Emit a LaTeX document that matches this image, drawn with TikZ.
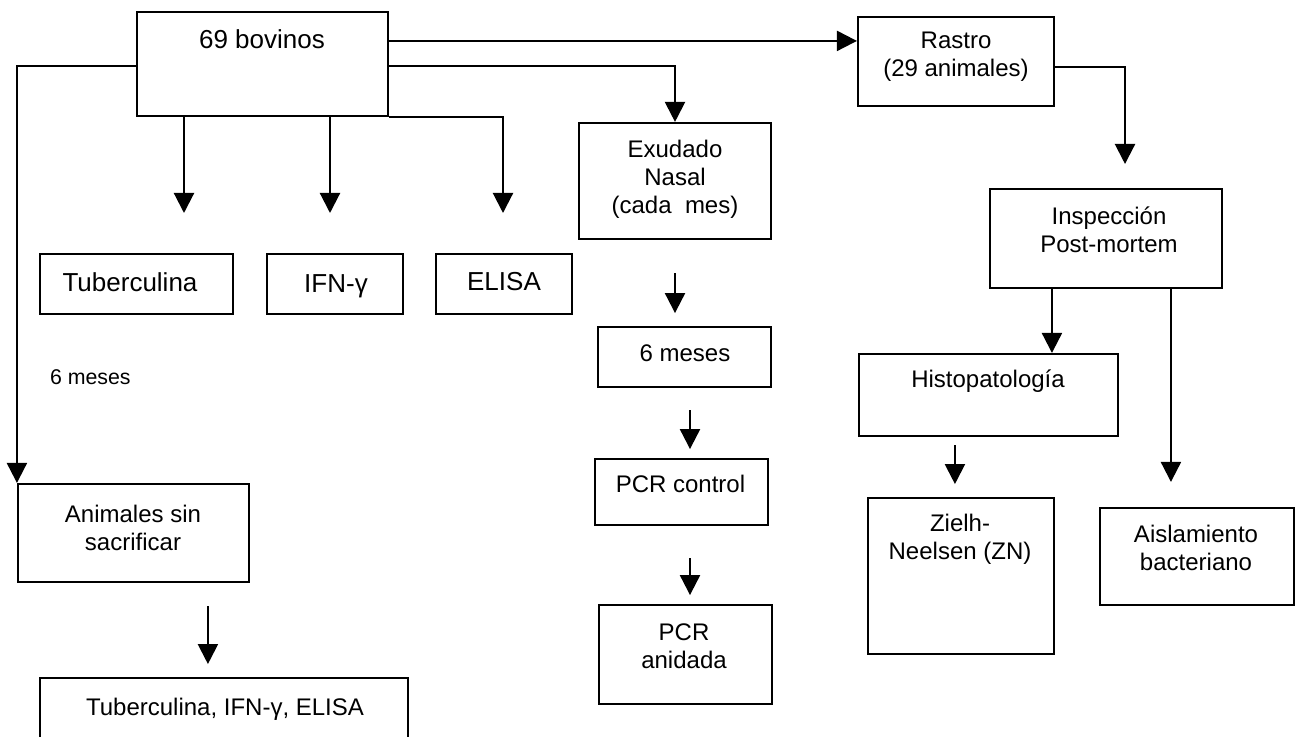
\documentclass[tikz,border=0pt]{standalone}
\usepackage{fontspec}
\setmainfont{Liberation Sans}
\usetikzlibrary{arrows.meta,calc}

\tikzset{every picture/.style={line width=1.6pt}}
\tikzset{
  box/.style={draw, rectangle, inner sep=0pt},
  wh/.style 2 args={minimum width=#1*0.75pt, minimum height=#2*0.75pt},
  arr/.style={-{Triangle[length=15pt,width=15pt]}},
  txt/.style={align=center, inner sep=0.75pt, font=\fontsize{18}{21}\selectfont},
  bigtxt/.style={txt, font=\fontsize{19.5}{22}\selectfont},
  smalltxt/.style={inner sep=0.75pt, font=\fontsize{16}{19}\selectfont},
}

\begin{document}
\begin{tikzpicture}[x=0.75pt,y=0.75pt,yscale=-1,xscale=1]
\useasboundingbox (0,0) rectangle (1301,737);

%Shape: Rectangle [69 bovinos]
\node [box, wh={251}{104}] (bov) at (262.5,64) {};
%Shape: Rectangle [Rastro]
\node [box, wh={196}{89}] (rastro) at (956,61.5) {};
%Shape: Rectangle [Exudado]
\node [box, wh={192}{116}] (exud) at (675,181) {};
%Shape: Rectangle [Tuberculina]
\node [box, wh={193}{60}] (tub) at (136.5,284) {};
%Shape: Rectangle [IFN]
\node [box, wh={136}{60}] (ifn) at (335,284) {};
%Shape: Rectangle [ELISA]
\node [box, wh={136}{60}] (elisa) at (504,284) {};
%Shape: Rectangle [Inspeccion]
\node [box, wh={232}{99}] (insp) at (1106,238.5) {};
%Shape: Rectangle [6 meses]
\node [box, wh={173}{60}] (meses) at (684.5,357) {};
%Shape: Rectangle [Histopatologia]
\node [box, wh={259}{82}] (histo) at (988.5,395) {};
%Shape: Rectangle [PCR control]
\node [box, wh={173}{66}] (pcrc) at (681.5,492) {};
%Shape: Rectangle [Animales]
\node [box, wh={231}{98}] (anim) at (133.5,533) {};
%Shape: Rectangle [ZN]
\node [box, wh={186}{156}] (zn) at (961,576) {};
%Shape: Rectangle [Aislamiento]
\node [box, wh={194}{97}] (aisl) at (1197,556.5) {};
%Shape: Rectangle [PCR anidada]
\node [box, wh={173}{99}] (pcra) at (685.5,654.5) {};
%Shape: Rectangle [pruebas]
\node [box, wh={368}{64}] (tests) at (224,710) {};

%Coordinates
\coordinate (b0) at ($(bov.north west)+(0,55)$);
\coordinate (b1) at ($(bov.north east)+(0,30)$);
\coordinate (b2) at ($(bov.north east)+(0,55)$);
\coordinate (t1) at (184,213);
\coordinate (t2) at (330,213);
\coordinate (t3) at (503,213);
\coordinate (r1) at (1125,164);
\coordinate (i1) at ($(insp.south west)+(63,0)$);
\coordinate (i2) at ($(insp.south west)+(182,0)$);

%Straight Lines
\draw [arr] (b0) -| (anim.north west);
\draw [arr] (b1) -- (b1 -| rastro.west);
\draw [arr] (b2) -| (exud.north);
\draw [arr] (bov.south -| t1) -- (t1);
\draw [arr] (bov.south -| t2) -- (t2);
\draw [arr] (bov.south east) -| (t3);
\draw [arr] ($(rastro.east)+(0,5.5)$) -| (r1);
\draw [arr] ($(exud.south)+(0,33)$) -- ($(exud.south)+(0,73)$);
\draw [arr] ($(meses.south)+(5.5,22)$) -- ++(0,39);
\draw [arr] ($(pcrc.south)+(8.5,32)$) -- ++(0,37);
\draw [arr] (i1) -- (i1 |- histo.north);
\draw [arr] (i2) -- ($(i2 |- aisl.north)+(0,-25)$);
\draw [arr] ($(histo.south west)+(97,8)$) -- ++(0,39);
\draw [arr] ($(anim.south west)+(191,23)$) -- ++(0,58);

% Text Node
\draw (262,39) node [bigtxt] (tbov) {69 bovinos};
% Text Node
\draw (956,57) node [txt] (trastro) {Rastro\\(29 animales)};
% Text Node
\draw (675,179) node [txt] (texud) {Exudado\\Nasal\\(cada\ \ mes)};
% Text Node
\draw (130,282) node [bigtxt] (ttub) {Tuberculina};
% Text Node
\draw (336,286) node [bigtxt] (tifn) {IFN-γ};
% Text Node
\draw (504,282) node [bigtxt] (telisa) {ELISA};
% Text Node
\draw (1109,230) node [txt] (tinsp) {Inspección\\Post-mortem};
% Text Node
\draw (685,353) node [txt] (tmeses) {6 meses};
% Text Node
\draw (988,381) node [txt] (thisto) {Histopatología};
% Text Node
\draw (680.5,484) node [txt] (tpcrc) {PCR control};
% Text Node
\draw (133,528) node [txt] (tanim) {Animales sin\\sacrificar};
% Text Node
\draw (960,539) node [txt] (tzn) {Zielh-\\Neelsen (ZN)};
% Text Node
\draw (1196,548) node [txt] (taisl) {Aislamiento\\bacteriano};
% Text Node
\draw (684,646) node [txt] (tpcra) {PCR\\anidada};
% Text Node
\draw (225,709) node [txt] (ttests) {Tuberculina, IFN-γ, ELISA};
% Text Node
\draw (48,377) node [smalltxt, anchor=west] (tseis) {6 meses};

\end{tikzpicture}
\end{document}
